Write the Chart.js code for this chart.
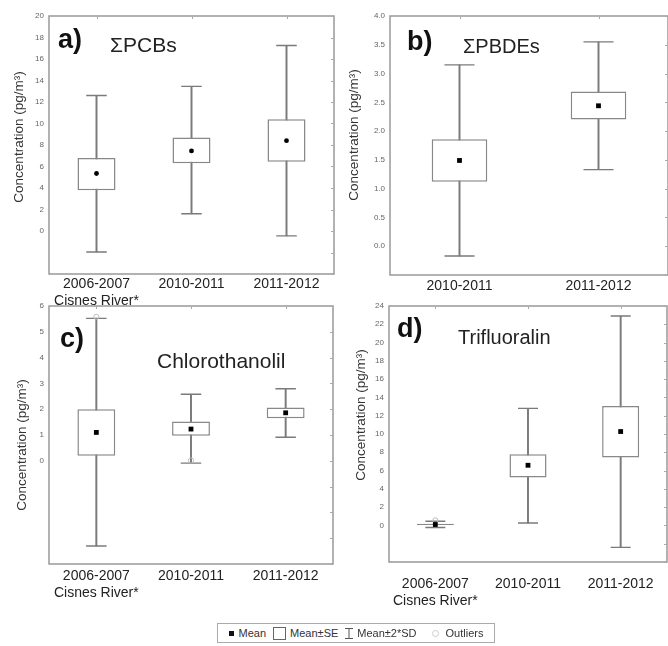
<!DOCTYPE html>
<html>
<head>
<meta charset="utf-8">
<script src="https://cdn.jsdelivr.net/npm/chart.js@4.4.1/dist/chart.umd.min.js"></script>
<style>
  body { margin: 0; background: #fff; }
  #wrap { position: relative; width: 668px; height: 646px; overflow: hidden; font-family: "Liberation Sans", Arial, sans-serif; }
  canvas { position: absolute; }
  #legend { position: absolute; left: 217px; top: 623px; width: 278px; height: 20px; border: 1px solid #aaa;
    box-sizing: border-box; font-size: 11px; color: #333; display: flex; align-items: center; justify-content: center; gap: 3px; }
  .sw { display: inline-block; }
</style>
</head>
<body>
<div id="wrap">
  <canvas id="pa" width="338" height="312" style="left:0;top:0"></canvas>
  <canvas id="pb" width="338" height="300" style="left:334px;top:0"></canvas>
  <canvas id="pc" width="338" height="320" style="left:0;top:290px"></canvas>
  <canvas id="pd" width="338" height="320" style="left:334px;top:290px"></canvas>
  <div id="legend">
    <span class="sw" style="width:5px;height:5px;background:#111;margin-right:2px"></span><span>Mean</span>
    <span class="sw" style="width:11px;height:11px;border:1px solid #666;margin-left:4px;margin-right:1px"></span><span>Mean±SE</span>
    <svg width="10" height="13" style="margin-left:3px"><path d="M1 1.5H9M5 1.5V11.5M1 11.5H9" stroke="#555" stroke-width="1" fill="none"/></svg><span>Mean±2*SD</span>
    <span class="sw" style="width:5px;height:5px;border:1px solid #ccc;border-radius:50%;margin-left:12px;margin-right:4px"></span><span>Outliers</span>
  </div>
</div>
<script>
// a) PCBs
const pcbCats = [['2006-2007', 'Cisnes River*'], '2010-2011', '2011-2012'];
const pcbMean = [5.35, 7.45, 8.4];
const pcbSeLow = [3.8, 6.3, 6.45];
const pcbSeHigh = [6.8, 8.7, 10.4];
const pcbSdLow = [-1.95, 1.6, -0.45];
const pcbSdHigh = [12.6, 13.45, 17.25];

// b) PBDEs
const pbdeCats = ['2010-2011', '2011-2012'];
const pbdeMean = [1.49, 2.44];
const pbdeSeLow = [1.12, 2.2];
const pbdeSeHigh = [1.86, 2.69];
const pbdeSdLow = [-0.17, 1.33];
const pbdeSdHigh = [3.15, 3.55];

// c) Chlorothanolil
const chlCats = [['2006-2007', 'Cisnes River*'], '2010-2011', '2011-2012'];
const chlMean = [1.1, 1.23, 1.86];
const chlSeLow = [0.2, 0.97, 1.65];
const chlSeHigh = [2.0, 1.52, 2.07];
const chlSdLow = [-3.3, -0.09, 0.91];
const chlSdHigh = [5.52, 2.58, 2.79];
const chlOutliers = [5.58, 0.01, null];

// d) Trifluoralin
const triCats = [['2006-2007', 'Cisnes River*'], '2010-2011', '2011-2012'];
const triMean = [0.1, 6.58, 10.27];
const triSeLow = [0.05, 5.25, 7.42];
const triSeHigh = [0.17, 7.78, 13.05];
const triSdLow = [-0.22, 0.27, -2.4];
const triSdHigh = [0.45, 12.8, 22.9];
const triOutliers = [0.55, null, null];

const yTitle = 'Concentration (pg/m³)';
Chart.defaults.font.family = '"Liberation Sans", Arial, sans-serif';

// frame round the plot, small inner ticks on top/right, free text (letters, names, axis title)
const panelPlugin = {
  id: 'panel',
  afterDraw(chart, args, opts) {
    const { ctx, chartArea: a, scales } = chart;
    ctx.save();
    ctx.strokeStyle = '#999';
    ctx.lineWidth = 1.5;
    ctx.strokeRect(a.left, a.top, a.right - a.left, a.bottom - a.top);
    ctx.lineWidth = 1;
    ctx.strokeStyle = '#aaa';
    ctx.beginPath();
    scales.y.ticks.forEach((t) => {
      const y = Math.round(scales.y.getPixelForValue(t.value)) + 0.5;
      ctx.moveTo(a.right, y); ctx.lineTo(a.right - 3, y);
    });
    scales.x.ticks.forEach((t, i) => {
      const x = Math.round(scales.x.getPixelForTick(i)) + 0.5;
      ctx.moveTo(x, a.top); ctx.lineTo(x, a.top + 3);
    });
    ctx.stroke();
    ctx.fillStyle = '#111';
    ctx.textBaseline = 'alphabetic';
    ctx.textAlign = 'left';
    ctx.font = 'bold 27px "Liberation Sans", Arial, sans-serif';
    ctx.fillText(opts.letter, opts.letterX, opts.letterY);
    ctx.fillStyle = '#222';
    ctx.font = opts.nameSize + 'px "Liberation Sans", Arial, sans-serif';
    ctx.fillText(opts.name, opts.nameX, opts.nameY);
    ctx.translate(opts.titleX, opts.titleY);
    ctx.rotate(-Math.PI / 2);
    ctx.textAlign = 'center';
    ctx.textBaseline = 'middle';
    ctx.fillStyle = '#333';
    ctx.font = '13.5px "Liberation Sans", Arial, sans-serif';
    ctx.fillText(yTitle, 0, 0);
    ctx.restore();
  }
};

function makePanel(id, d, o) {
  const capRadius = (c) => c.chart.scales.x.width / d.cats.length * 0.108;
  const datasets = [
    { type: 'bar', data: d.sdLow.map((v, i) => [v, d.sdHigh[i]]), backgroundColor: '#7a7a7a',
      barThickness: 1.3, grouped: false, order: 3 },
    { type: 'bar', data: d.seLow.map((v, i) => [v, d.seHigh[i]]), backgroundColor: '#fff', borderColor: '#888',
      borderWidth: 1.5, borderSkipped: false, barPercentage: 0.4, categoryPercentage: 1, grouped: false, order: 2 },
    { type: 'line', data: d.sdHigh, showLine: false, pointStyle: 'line', pointRadius: capRadius,
      pointBorderColor: '#7a7a7a', pointBorderWidth: 1.4, order: 1 },
    { type: 'line', data: d.sdLow, showLine: false, pointStyle: 'line', pointRadius: capRadius,
      pointBorderColor: '#7a7a7a', pointBorderWidth: 1.4, order: 1 },
    { type: 'line', data: d.mean, showLine: false, pointStyle: o.meanStyle, pointRadius: o.meanStyle === 'rect' ? 3.4 : 2.4,
      pointBackgroundColor: '#000', pointBorderWidth: 0, order: 0 }
  ];
  if (d.outliers) {
    datasets.push({ type: 'line', data: d.outliers, showLine: false, pointStyle: 'circle', pointRadius: 2.6,
      pointBackgroundColor: 'rgba(255,255,255,0)', pointBorderColor: '#bbb', pointBorderWidth: 1, order: 0 });
  }
  new Chart(document.getElementById(id), {
    data: { labels: d.cats, datasets },
    plugins: [panelPlugin],
    options: {
      responsive: false,
      animation: false,
      events: [],
      layout: { padding: { top: o.top, right: 1, left: 0, bottom: 0 } },
      plugins: { legend: { display: false }, tooltip: { enabled: false }, panel: o.text },
      scales: {
        x: {
          type: 'category', offset: true,
          grid: { display: false, drawTicks: false }, border: { display: false },
          ticks: { font: { size: 14 }, color: '#222', padding: o.xPad, maxRotation: 0, autoSkip: false },
          afterFit: (s) => { s.height = o.xh; }
        },
        y: {
          min: o.min, max: o.max,
          grid: { display: false, drawTicks: false }, border: { display: false },
          ticks: { stepSize: o.step, font: { size: 8 }, color: '#666', padding: 5,
            callback: (v) => v < 0 ? '' : (o.decimals ? v.toFixed(o.decimals) : v) },
          afterFit: (s) => { s.width = o.yw; }
        }
      }
    }
  });
}

makePanel('pa',
  { cats: pcbCats, mean: pcbMean, seLow: pcbSeLow, seHigh: pcbSeHigh, sdLow: pcbSdLow, sdHigh: pcbSdHigh },
  { min: -4, max: 20, step: 2, yw: 49, xh: 38, top: 16, xPad: 2, meanStyle: 'circle',
    text: { letter: 'a)', letterX: 58, letterY: 48, name: 'ΣPCBs', nameSize: 21, nameX: 110, nameY: 52, titleX: 19, titleY: 137 } });

makePanel('pb',
  { cats: pbdeCats, mean: pbdeMean, seLow: pbdeSeLow, seHigh: pbdeSeHigh, sdLow: pbdeSdLow, sdHigh: pbdeSdHigh },
  { min: -0.5, max: 4, step: 0.5, decimals: 1, yw: 56, xh: 25, top: 16, xPad: 3, meanStyle: 'rect',
    text: { letter: 'b)', letterX: 73, letterY: 50, name: 'ΣPBDEs', nameSize: 20, nameX: 129, nameY: 53, titleX: 20, titleY: 135 } });

makePanel('pc',
  { cats: chlCats, mean: chlMean, seLow: chlSeLow, seHigh: chlSeHigh, sdLow: chlSdLow, sdHigh: chlSdHigh, outliers: chlOutliers },
  { min: -4, max: 6, step: 1, yw: 49, xh: 46, top: 16, xPad: 4, meanStyle: 'rect',
    text: { letter: 'c)', letterX: 60, letterY: 57, name: 'Chlorothanolil', nameSize: 21, nameX: 157, nameY: 78, titleX: 22, titleY: 155 } });

makePanel('pd',
  { cats: triCats, mean: triMean, seLow: triSeLow, seHigh: triSeHigh, sdLow: triSdLow, sdHigh: triSdHigh, outliers: triOutliers },
  { min: -4, max: 24, step: 2, yw: 55, xh: 48, top: 16, xPad: 14, meanStyle: 'rect',
    text: { letter: 'd)', letterX: 63, letterY: 47, name: 'Trifluoralin', nameSize: 20, nameX: 124, nameY: 54, titleX: 27, titleY: 125 } });
</script>
</body>
</html>
